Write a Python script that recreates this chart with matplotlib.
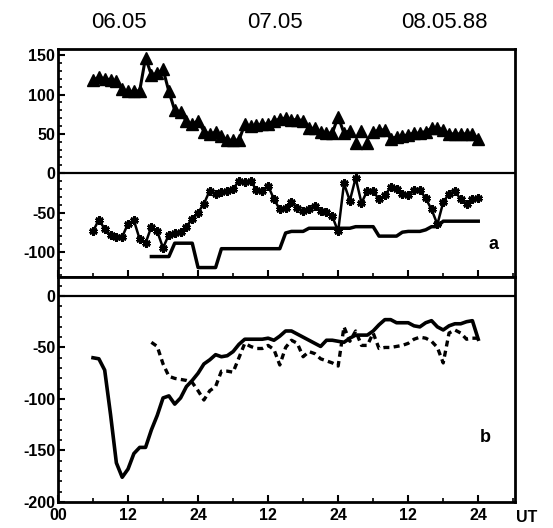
import numpy as np
import matplotlib
matplotlib.use("Agg")
import matplotlib.pyplot as plt
from matplotlib.ticker import MultipleLocator, FixedLocator

plt.rcParams['font.family'] = ['Liberation Sans', 'DejaVu Sans']

# ---- data (hours since 00 UT 06.05.88) ----
hours_tri = list(range(6, 73))
tri_vals = [118, 122, 120, 119, 117, 107, 104, 104, 105, 147,
            125, 127, 132, 104, 80, 78, 66, 62, 67, 53,
            50, 52, 47, 42, 42, 42, 62, 60, 61, 62,
            63, 66, 69, 70, 68, 68, 67, 57, 57, 52,
            51, 51, 72, 51, 54, 38, 54, 38, 52, 55,
            55, 44, 46, 47, 49, 51, 51, 53, 57, 58,
            55, 50, 50, 50, 50, 50, 44]
# points shown without connecting line (isolated)
tri_isolated = [51, 52, 53]

hours_ast = list(range(6, 73))
ast_vals = [-74, -59, -71, -79, -81, -81, -64, -60, -84, -89,
            -68, -74, -95, -78, -76, -75, -68, -58, -50, -39,
            -22, -26, -24, -22, -20, -10, -11, -10, -21, -22,
            -16, -33, -46, -44, -37, -44, -48, -45, -42, -48,
            -49, -55, -74, -13, -35, -6, -38, -22, -23, -33,
            -28, -18, -20, -26, -28, -21, -21, -32, -46, -65,
            -37, -26, -23, -33, -39, -33, -32]

hours_step = list(range(16, 73))
step_vals = [-106, -106, -106, -106, -89, -89, -89, -89, -120, -120,
             -120, -120, -96, -96, -96, -96, -96, -96, -96, -96,
             -96, -96, -96, -76, -74, -74, -74, -70, -70, -70,
             -70, -70, -70, -70, -70, -68, -68, -68, -68, -80,
             -80, -80, -80, -75, -74, -74, -74, -72, -68, -68,
             -61, -61, -61, -61, -61, -61, -61]

hours_solid = list(range(6, 73))
solid_vals = [-60, -61, -72, -115, -162, -176, -168, -153, -147, -147,
              -130, -116, -99, -97, -105, -99, -88, -82, -75, -66,
              -62, -57, -59, -58, -54, -47, -42, -42, -42, -42,
              -41, -43, -39, -34, -34, -37, -40, -43, -46, -49,
              -43, -43, -44, -45, -41, -38, -38, -38, -34, -28,
              -23, -23, -26, -26, -26, -29, -30, -26, -24, -30,
              -33, -29, -27, -27, -25, -24, -42]

hours_dash = list(range(16, 73))
dash_vals = [-45, -49, -66, -78, -80, -81, -82, -84, -92, -101,
             -92, -88, -73, -73, -74, -60, -46, -49, -51, -51,
             -48, -52, -67, -50, -43, -46, -59, -54, -56, -61,
             -63, -65, -68, -30, -44, -34, -48, -48, -36, -51,
             -50, -50, -49, -48, -46, -42, -40, -41, -44, -50,
             -65, -36, -33, -36, -42, -41, -41]

xtick_pos = [0, 12, 24, 36, 48, 60, 72]
xtick_labels = ['00', '12', '24', '12', '24', '12', '24']
date_labels = ['06.05', '07.05', '08.05.88']

# ---- figure ----
W, H = 553, 528
fig = plt.figure(figsize=(W / 100, H / 100), dpi=100)

def fx(px):
    return px / W

def fy(py):
    return 1 - py / H

left, right = 58, 515
ax1 = fig.add_axes([fx(left), fy(277), fx(right) - fx(left), fy(49) - fy(277)])
ax2 = fig.add_axes([fx(left), fy(502), fx(right) - fx(left), fy(277) - fy(502)])

tick_font = dict(fontsize=11.5, fontweight='bold')

for ax in (ax1, ax2):
    ax.set_xlim(0, 78.3)
    for s in ax.spines.values():
        s.set_linewidth(2.0)
    ax.xaxis.set_major_locator(FixedLocator(xtick_pos))
    ax.xaxis.set_minor_locator(MultipleLocator(6))
    ax.yaxis.set_major_locator(MultipleLocator(50))
    ax.yaxis.set_minor_locator(MultipleLocator(10))
    ax.tick_params(axis='both', which='both', direction='in', top=False, right=False)
    ax.tick_params(axis='both', which='major', length=5, width=1.5)
    ax.tick_params(axis='both', which='minor', length=3, width=1.2)
    ax.tick_params(axis='y', which='major', pad=2)

# ---- upper panel (a) ----
ax1.set_ylim(-132, 158)
ax1.axhline(0, color='black', lw=1.6)
tri_line = np.array(tri_vals, dtype=float)
ht = np.array(hours_tri)
line_mask = np.isin(ht, tri_isolated)
tri_line_m = tri_line.copy()
tri_line_m[line_mask] = np.nan
ax1.plot(ht, tri_line_m, color='black', lw=2.2, zorder=3)
ax1.plot(ht, tri_line, linestyle='none', marker='^', ms=8, color='black', zorder=4)
ax1.plot(hours_ast, ast_vals, color='black', lw=1.8, marker=(6, 2, 0), ms=6,
         markeredgewidth=2.0, zorder=4)
ax1.plot(hours_step, step_vals, color='black', lw=2.5, zorder=3)
ax1.set_xticklabels([])
ax1.set_yticks([-100, -50, 0, 50, 100, 150])
ax1.set_yticklabels(['-100', '-50', '0', '50', '100', '150'], **tick_font)
ax1.text(74.6, -91, 'a', fontsize=13, fontweight='bold', ha='center', va='center')

# ---- lower panel (b) ----
ax2.set_ylim(-200, 18.4)
ax2.axhline(0, color='black', lw=1.6)
ax2.plot(hours_solid, solid_vals, color='black', lw=2.6, zorder=3)
ax2.plot(hours_dash, dash_vals, color='black', lw=2.4, linestyle=(0, (1.8, 1.3)), zorder=3)
ax2.set_yticks([-200, -150, -100, -50, 0])
ax2.set_yticklabels(['-200', '-150', '-100', '-50', '0'], **tick_font)
ax2.set_xticklabels(xtick_labels, **tick_font)
ax2.tick_params(axis='x', which='major', pad=4)
ax2.text(73.2, -137, 'b', fontsize=13, fontweight='bold', ha='center', va='center')

fig.text(fx(527), fy(517), 'UT', fontsize=11.5, fontweight='bold', ha='center', va='center')

for lab, px in zip(date_labels, [119, 275, 444]):
    fig.text(fx(px), fy(22), lab, fontsize=16, ha='center', va='center')

fig.savefig('out.png', dpi=100)
